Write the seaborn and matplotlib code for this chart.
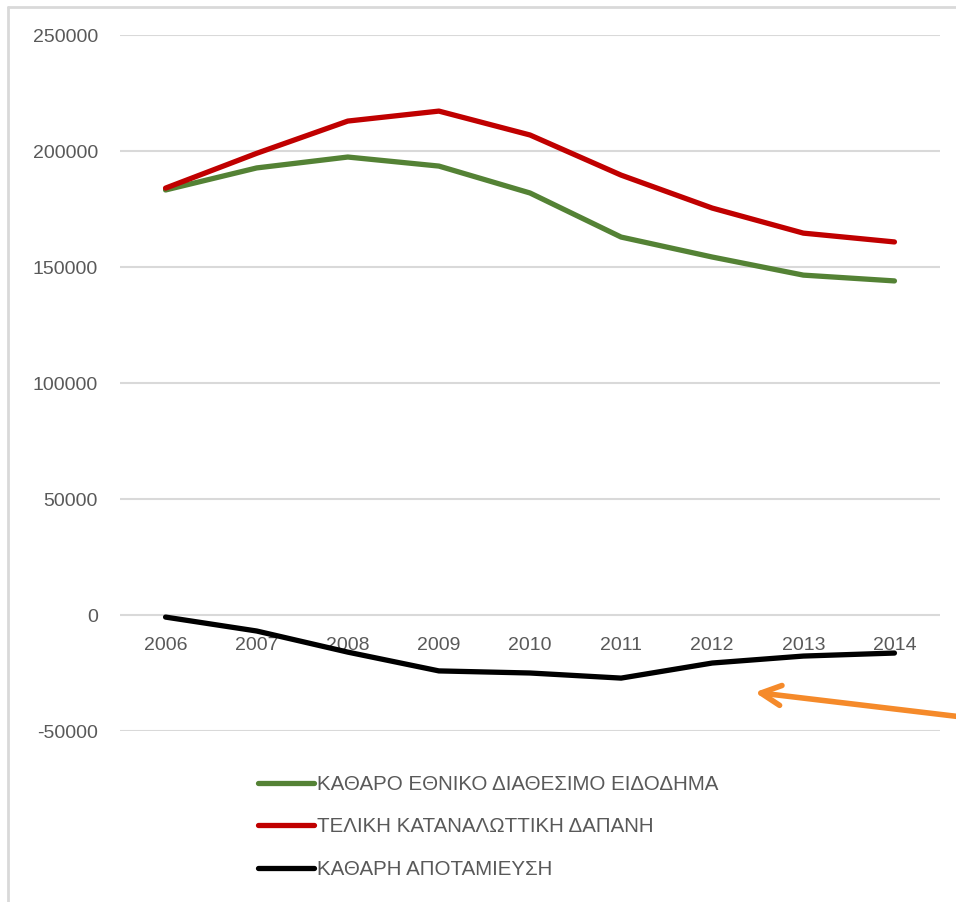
import pandas as pd
import numpy as np
import matplotlib.pyplot as plt
import seaborn as sns
from matplotlib.lines import Line2D

sns.set_theme(style='white')
plt.rcParams['font.family'] = ['Liberation Sans', 'DejaVu Sans']
plt.rcParams['axes.unicode_minus'] = False

# δεδομένα (διαβασμένα από το γράφημα)
years = ['2006', '2007', '2008', '2009', '2010', '2011', '2012', '2013', '2014']
eisodima = [183200, 192700, 197400, 193500, 181900, 162900, 154300, 146500, 144000]
dapani = [184000, 199000, 212900, 217200, 206900, 189600, 175400, 164600, 160800]
apotamieusi = [-900, -6900, -16000, -24100, -25000, -27200, -20700, -17700, -16400]

series_names = ['ΚΑΘΑΡΟ ΕΘΝΙΚΟ ΔΙΑΘΕΣΙΜΟ ΕΙΔΟΔΗΜΑ',
                'ΤΕΛΙΚΗ ΚΑΤΑΝΑΛΩΤΤΙΚΗ ΔΑΠΑΝΗ',
                'ΚΑΘΑΡΗ ΑΠΟΤΑΜΙΕΥΣΗ']
colors = ['#548235', '#C00000', '#000000']

df = pd.DataFrame({'year': years * 3,
                   'value': eisodima + dapani + apotamieusi,
                   'series': np.repeat(series_names, len(years))})

fig = plt.figure(figsize=(9.56, 9.02), dpi=100)
ax = fig.add_axes([120/956, 1-731/902, 820/956, 696/902])

sns.lineplot(data=df, x='year', y='value', hue='series', palette=colors,
             linewidth=3.8, ax=ax, legend=False, sort=False)

ax.set_ylim(-50000, 250000)
ax.set_yticks(np.arange(-50000, 250001, 50000))
ax.set_xlim(-0.5, len(years) - 0.5)
ax.yaxis.grid(True, color='#D9D9D9', linewidth=1.5)
ax.set_axisbelow(True)
for s in ax.spines.values():
    s.set_visible(False)
ax.spines['bottom'].set_position(('data', 0))
ax.tick_params(axis='x', length=0, pad=16, labelsize=14, labelcolor='#595959')
ax.tick_params(axis='y', length=0, pad=16, labelsize=14, labelcolor='#595959')
ax.set_xlabel('')
ax.set_ylabel('')

handles = [Line2D([], [], color=c, lw=3.8, solid_capstyle='round') for c in colors]
ax.legend(handles, series_names, loc='center left',
          bbox_to_anchor=(258/956, 1-827/902), bbox_transform=fig.transFigure,
          frameon=False, fontsize=14.8, labelcolor='#595959', handlelength=2.7,
          handletextpad=0.15, labelspacing=1.15, borderpad=0, borderaxespad=0)

# πλαίσιο γραφήματος
fig.add_artist(Line2D([8/956, 1], [1-7/902, 1-7/902], color='#D9D9D9', lw=2,
                      transform=fig.transFigure))
fig.add_artist(Line2D([8/956, 8/956], [0, 1-7/902], color='#D9D9D9', lw=2,
                      transform=fig.transFigure))

# βέλος
ax.annotate('', xy=(752, 902-692), xycoords='figure pixels',
            xytext=(962, 902-717), textcoords='figure pixels',
            arrowprops=dict(arrowstyle='->', color='#F58A2A', lw=4,
                            mutation_scale=36, capstyle='round',
                            joinstyle='round'))

fig.savefig('out.png', dpi=100)
